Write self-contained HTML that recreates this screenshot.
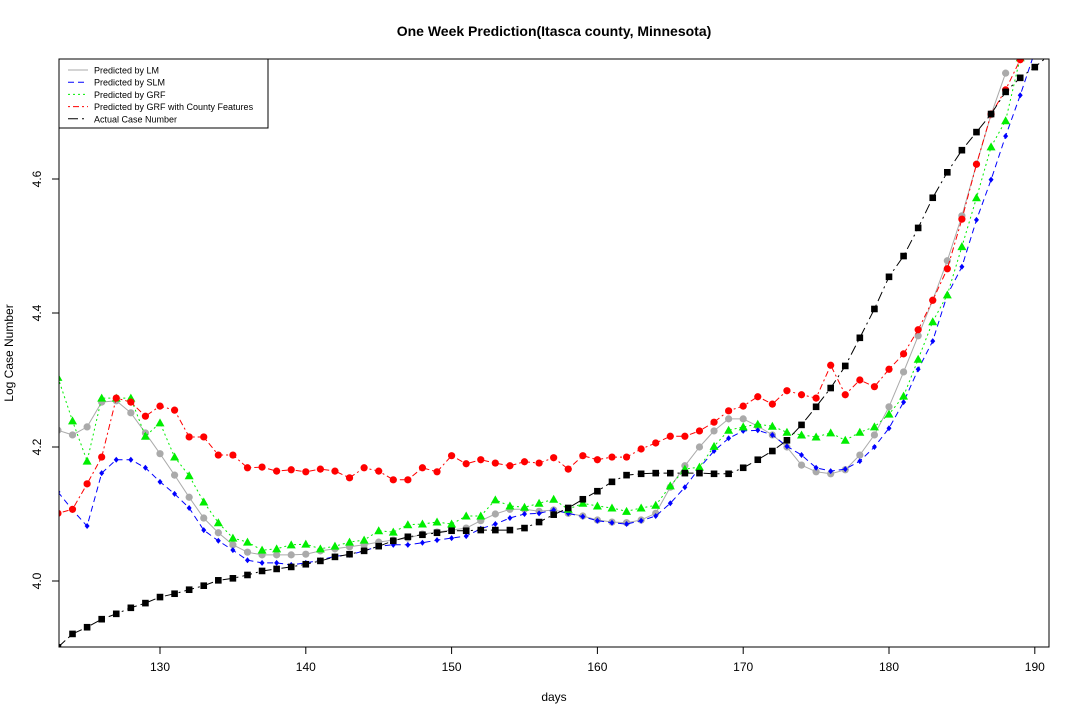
<!DOCTYPE html>
<html><head><meta charset="utf-8"><style>
body{margin:0;background:#fff;}
svg text{font-family:"Liberation Sans",Arial,sans-serif;}
</style></head><body>
<svg id="chart" width="1080" height="720" xmlns="http://www.w3.org/2000/svg">
<text x="554" y="36" text-anchor="middle" font-size="14" font-weight="bold">One Week Prediction(Itasca county, Minnesota)</text>
<text x="554" y="701" text-anchor="middle" font-size="12">days</text>
<text transform="translate(13,353) rotate(-90)" text-anchor="middle" font-size="12">Log Case Number</text>
<defs><clipPath id="clip"><rect x="59" y="59" width="990" height="588"/></clipPath></defs>
<g id="axes"></g>
<g id="series" clip-path="url(#clip)"></g>
<rect x="59" y="59" width="990" height="588" fill="none" stroke="#000"/>
<g id="legend"></g>
</svg>
<script>
const days0 = 123;
const xTicks = [130,140,150,160,170,180,190];
const yTicks = [4.0,4.2,4.4,4.6];
const seriesNames = ["Predicted by LM","Predicted by SLM","Predicted by GRF","Predicted by GRF with County Features","Actual Case Number"];
const lmVals = [4.225,4.218,4.230,4.267,4.269,4.251,4.221,4.190,4.158,4.125,4.094,4.072,4.054,4.043,4.039,4.039,4.039,4.040,4.045,4.048,4.051,4.054,4.058,4.061,4.064,4.070,4.073,4.076,4.079,4.090,4.100,4.107,4.107,4.104,4.106,4.101,4.097,4.091,4.088,4.087,4.091,4.101,4.140,4.172,4.200,4.224,4.242,4.242,4.231,4.218,4.200,4.173,4.163,4.160,4.166,4.188,4.218,4.260,4.312,4.366,4.419,4.478,4.545,4.622,4.696,4.758];
const slmVals = [4.133,4.106,4.082,4.161,4.181,4.181,4.169,4.148,4.130,4.109,4.076,4.060,4.046,4.031,4.027,4.027,4.024,4.027,4.031,4.037,4.039,4.045,4.052,4.054,4.054,4.057,4.061,4.064,4.067,4.078,4.085,4.094,4.100,4.101,4.106,4.101,4.096,4.090,4.087,4.085,4.090,4.097,4.116,4.140,4.169,4.194,4.213,4.224,4.225,4.218,4.201,4.188,4.169,4.164,4.167,4.179,4.200,4.228,4.267,4.316,4.358,4.427,4.469,4.539,4.599,4.664,4.725,4.790];
const grfVals = [4.304,4.239,4.179,4.273,4.273,4.273,4.216,4.236,4.185,4.157,4.118,4.087,4.064,4.058,4.046,4.048,4.054,4.055,4.048,4.052,4.058,4.061,4.075,4.073,4.084,4.085,4.088,4.085,4.097,4.097,4.121,4.112,4.110,4.116,4.122,4.107,4.116,4.112,4.109,4.104,4.109,4.113,4.142,4.167,4.170,4.201,4.225,4.230,4.234,4.231,4.222,4.218,4.215,4.221,4.210,4.222,4.230,4.249,4.276,4.331,4.387,4.427,4.499,4.572,4.648,4.687,4.781];
const grfCountyVals = [4.101,4.107,4.145,4.185,4.273,4.267,4.246,4.261,4.255,4.215,4.215,4.188,4.188,4.169,4.170,4.164,4.166,4.163,4.167,4.164,4.154,4.169,4.164,4.151,4.151,4.169,4.163,4.187,4.175,4.181,4.176,4.172,4.178,4.176,4.184,4.167,4.187,4.181,4.185,4.185,4.197,4.206,4.216,4.216,4.224,4.237,4.254,4.261,4.275,4.264,4.284,4.278,4.273,4.322,4.278,4.300,4.290,4.316,4.339,4.375,4.419,4.466,4.540,4.622,4.697,4.733,4.778,4.85];
const actualVals = [3.901,3.921,3.931,3.943,3.951,3.960,3.967,3.976,3.981,3.987,3.993,4.001,4.004,4.009,4.015,4.018,4.021,4.025,4.030,4.036,4.040,4.045,4.052,4.060,4.066,4.069,4.072,4.075,4.075,4.076,4.076,4.076,4.079,4.088,4.099,4.109,4.122,4.134,4.148,4.158,4.160,4.161,4.161,4.161,4.161,4.160,4.160,4.169,4.181,4.194,4.210,4.233,4.260,4.288,4.321,4.363,4.406,4.454,4.485,4.527,4.572,4.610,4.643,4.670,4.697,4.730,4.751,4.767,4.785];

const NS="http://www.w3.org/2000/svg";
const X = d => 160 + (d-130)*14.58;
const Y = v => 581 - (v-4.0)*670;
function mk(tag, parent, attrs){const e=document.createElementNS(NS,tag);for(const k in attrs)e.setAttribute(k,attrs[k]);parent.appendChild(e);return e;}

const axes=document.getElementById('axes');
xTicks.forEach(t=>{
  const l=mk('line',axes,{x1:X(t),x2:X(t),y1:647,y2:654,stroke:'#000'});
  
  
  const tx=mk('text',axes,{x:X(t),y:671,'text-anchor':'middle','font-size':12});
  tx.textContent=t;
  
  
});
yTicks.forEach(t=>{
  const l=mk('line',axes,{x1:52,x2:59,y1:Y(t),y2:Y(t),stroke:'#000'});
  
  
  const tx=mk('text',axes,{x:0,y:0,'text-anchor':'middle','font-size':12,transform:`translate(41,${Y(t)}) rotate(-90)`});
  tx.textContent=t.toFixed(1);
  
  
});

const styles=[
 {vals:lmVals,color:'#aaaaaa',dash:'',marker:'circle',name:'lm'},
 {vals:slmVals,color:'#0000ff',dash:'6,4',marker:'diamond',name:'slm'},
 {vals:grfVals,color:'#00ee00',dash:'2,3',marker:'triangle',name:'grf'},
 {vals:grfCountyVals,color:'#ff0000',dash:'2,3,6,3',marker:'circle',name:'grf-county'},
 {vals:actualVals,color:'#000000',dash:'10,4,2,4',marker:'square',name:'actual'}
];
function marker(g,type,x,y,c){
  let e;
  if(type==='circle') e=mk('circle',g,{cx:x,cy:y,r:3.6,fill:c});
  else if(type==='diamond') e=mk('polygon',g,{points:`${x},${y-3} ${x+2.5},${y} ${x},${y+3} ${x-2.5},${y}`,fill:c});
  else if(type==='triangle') e=mk('polygon',g,{points:`${x},${y-4.5} ${x+4.5},${y+3.5} ${x-4.5},${y+3.5}`,fill:c});
  else e=mk('rect',g,{x:x-3.3,y:y-3.3,width:6.6,height:6.6,fill:c});
  return e;
}
const sg=document.getElementById('series');
styles.forEach(s=>{
  const g=mk('g',sg,{});
  
  
  const pts=s.vals.map((v,i)=>X(days0+i).toFixed(1)+','+Y(v).toFixed(1)).join(' ');
  const pl=mk('polyline',g,{points:pts,fill:'none',stroke:s.color,'stroke-width':1,'stroke-dasharray':s.dash});
  
  
  s.vals.forEach((v,i)=>{
    const m=marker(g,s.marker,X(days0+i),Y(v),s.color);
    
    
  });
});

const lg=document.getElementById('legend');
mk('rect',lg,{x:59,y:59,width:209,height:69,fill:'#fff',stroke:'#000'});
styles.forEach((s,i)=>{
  const y=70+i*12.2;
  const l=mk('line',lg,{x1:68,x2:88,y1:y,y2:y,stroke:s.color,'stroke-dasharray':s.dash});
  
  
  const t=mk('text',lg,{x:94,y:y+3.5,'font-size':9});
  t.textContent=seriesNames[i];
  
  
});
</script>
</body></html>
